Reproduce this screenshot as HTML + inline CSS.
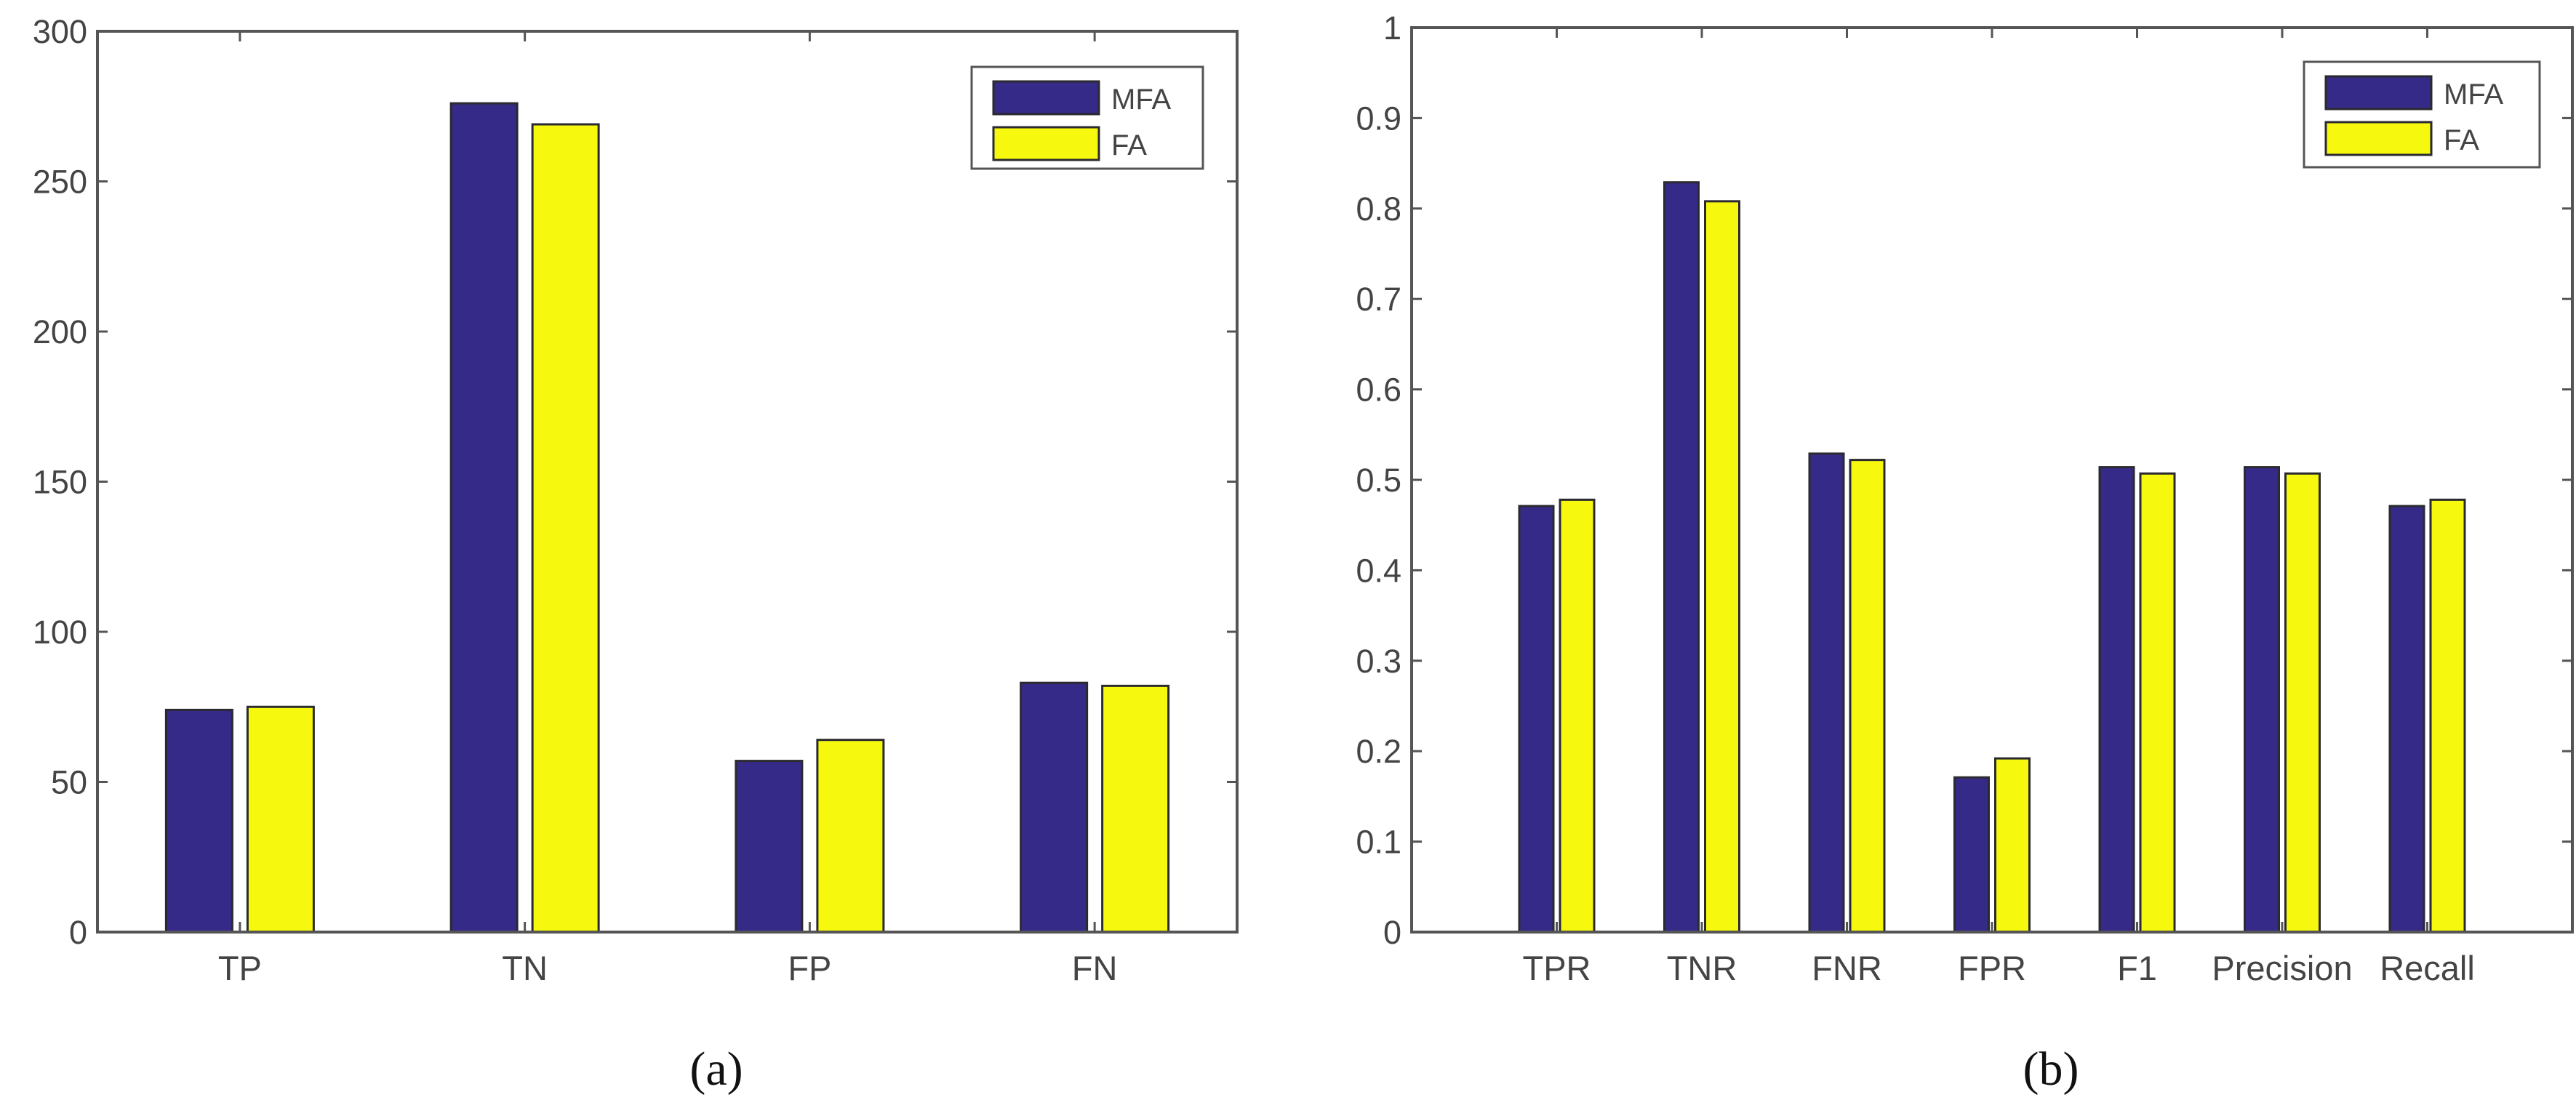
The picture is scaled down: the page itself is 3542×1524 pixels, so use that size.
<!DOCTYPE html>
<html><head><meta charset="utf-8"><style>
html,body{margin:0;padding:0;background:#fff;}
svg{display:block;}
text{font-family:"Liberation Sans",sans-serif;fill:#444;}
.cap{font-family:"Liberation Serif",serif;fill:#111;}
</style></head><body>
<svg id="fig" width="3542" height="1524" viewBox="0 0 3542 1524" xmlns="http://www.w3.org/2000/svg"></svg>
<script>
const catsA = ["TP","TN","FP","FN"];
const mfaA = [74, 276, 57, 83];
const faA = [75, 269, 64, 82];
const ticksA = [0,50,100,150,200,250,300];
const catsB = ["TPR","TNR","FNR","FPR","F1","Precision","Recall"];
const mfaB = [0.471, 0.829, 0.529, 0.171, 0.514, 0.514, 0.471];
const faB = [0.478, 0.808, 0.522, 0.192, 0.507, 0.507, 0.478];
const ticksB = [0,0.1,0.2,0.3,0.4,0.5,0.6,0.7,0.8,0.9,1];
const seriesNames = ["MFA","FA"];

const NS="http://www.w3.org/2000/svg";
const svg=document.getElementById('fig');
function mk(tag,attrs,parent,txt){const e=document.createElementNS(NS,tag);for(const k in attrs)e.setAttribute(k,attrs[k]);if(txt!==undefined)e.textContent=txt;(parent||svg).appendChild(e);return e;}

function chart(cfg){
  const g=mk('g',{});
  
  
  const {x0,x1,y0,y1,ymax,xmin,xmax}=cfg;
  const sx=v=>x0+(v-xmin)/(xmax-xmin)*(x1-x0);
  const sy=v=>y1-(v/ymax)*(y1-y0);
  cfg.cats.forEach((c,i)=>{
    const cx=sx(i+1);
    [[cfg.s1,'#352a87',-cfg.off],[cfg.s2,'#f6f80e',cfg.off]].forEach((s,k)=>{
      const v=s[0][i], top=sy(v);
      const r=mk('rect',{x:cx+s[2]-cfg.bw/2,y:top,width:cfg.bw,height:y1-top,fill:s[1],stroke:'#2a2a30','stroke-width':3},g);
      
      
    });
    mk('line',{x1:cx,y1:y1,x2:cx,y2:y1-14,stroke:'#555','stroke-width':3},g);
    mk('line',{x1:cx,y1:y0,x2:cx,y2:y0+14,stroke:'#555','stroke-width':3},g);
    const t=mk('text',{x:cx,y:y1+66,'text-anchor':'middle','font-size':47},g,c);
    
    
  });
  cfg.ticks.forEach(v=>{
    const y=sy(v);
    mk('line',{x1:x0,y1:y,x2:x0+14,y2:y,stroke:'#555','stroke-width':3},g);
    mk('line',{x1:x1,y1:y,x2:x1-14,y2:y,stroke:'#555','stroke-width':3},g);
    const t=mk('text',{x:x0-14,y:y+16,'text-anchor':'end','font-size':45},g,String(v));
    
    
  });
  const box=mk('rect',{x:x0,y:y0,width:x1-x0,height:y1-y0,fill:'none',stroke:'#555','stroke-width':4},g);
  
  
  const L=cfg.leg;
  const lg=mk('g',{},g);
  
  
  mk('rect',{x:L.x,y:L.y,width:L.w,height:L.h,fill:'#fff',stroke:'#555','stroke-width':3},lg);
  ['#352a87','#f6f80e'].forEach((col,k)=>{
    const yy=L.y+20+k*63;
    mk('rect',{x:L.x+30,y:yy,width:145,height:45,fill:col,stroke:'#2a2a30','stroke-width':3},lg);
    const t=mk('text',{x:L.x+192,y:yy+38,'font-size':40},lg,seriesNames[k]);
    
    
  });
  const cap=mk('text',{x:cfg.capx,y:1492,'text-anchor':'middle','font-size':66,'class':'cap'},g,cfg.cap);
  
  
}

chart({name:'chart-a',cats:catsA,s1:mfaA,s2:faA,ticks:ticksA,x0:134,x1:1701,y0:43,y1:1282,ymax:300,xmin:0.5,xmax:4.5,bw:91,off:56,
  leg:{x:1336,y:92,w:318,h:140},cap:'(a)',capx:985});
chart({name:'chart-b',cats:catsB,s1:mfaB,s2:faB,ticks:ticksB,x0:1941,x1:3537,y0:38,y1:1282,ymax:1,xmin:0,xmax:8,bw:47,off:28,
  leg:{x:3168,y:85,w:324,h:145},cap:'(b)',capx:2820});
</script>
</body></html>
